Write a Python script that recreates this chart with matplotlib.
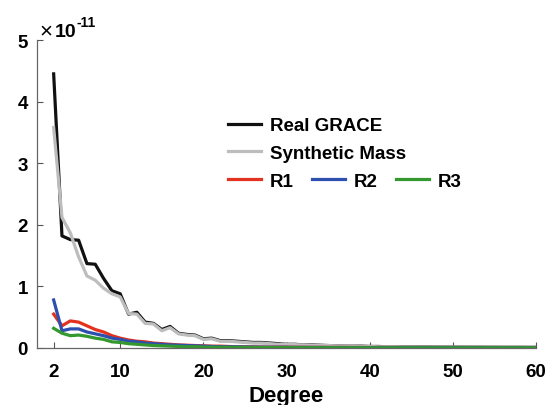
# plot.py
# Degree spectrum of real GRACE vs synthetic mass and the three residuals R1-R3.

import numpy as np
import matplotlib
matplotlib.use("Agg")
import matplotlib.pyplot as plt

# spherical harmonic degree 2..60
degree = np.arange(2, 61)

# values in units of 1e-11
real_grace = [4.45, 1.82, 1.76, 1.75, 1.37, 1.36, 1.13, 0.93, 0.88, 0.55,
              0.58, 0.42, 0.40, 0.30, 0.35, 0.24, 0.22, 0.21, 0.15, 0.16,
              0.12, 0.12, 0.11, 0.10, 0.09, 0.09, 0.08, 0.07, 0.06, 0.06,
              0.05, 0.05, 0.045, 0.04, 0.035, 0.03, 0.03, 0.03, 0.025, 0.025,
              0.02, 0.02, 0.02, 0.02, 0.018, 0.018, 0.016, 0.016, 0.015, 0.015,
              0.014, 0.014, 0.013, 0.013, 0.012, 0.012, 0.012, 0.011, 0.011]
synthetic = [3.58, 2.12, 1.87, 1.48, 1.17, 1.10, 0.97, 0.88, 0.83, 0.56,
             0.55, 0.40, 0.39, 0.28, 0.33, 0.23, 0.21, 0.20, 0.14, 0.15,
             0.11, 0.11, 0.10, 0.09, 0.08, 0.08, 0.07, 0.06, 0.06, 0.055,
             0.05, 0.045, 0.04, 0.04, 0.035, 0.03, 0.03, 0.025, 0.025, 0.02,
             0.02, 0.02, 0.018, 0.018, 0.016, 0.016, 0.015, 0.015, 0.014, 0.014,
             0.013, 0.013, 0.012, 0.012, 0.011, 0.011, 0.011, 0.010, 0.010]
r1 = [0.55, 0.36, 0.44, 0.42, 0.36, 0.30, 0.26, 0.20, 0.16, 0.13,
      0.11, 0.10, 0.08, 0.07, 0.06, 0.05, 0.045, 0.04, 0.035, 0.03,
      0.03, 0.025, 0.02, 0.02, 0.018, 0.016, 0.015, 0.014, 0.013, 0.012,
      0.012, 0.011, 0.011, 0.010, 0.010, 0.010, 0.009, 0.009, 0.009, 0.008,
      0.008, 0.008, 0.008, 0.007, 0.007, 0.007, 0.007, 0.007, 0.006, 0.006,
      0.006, 0.006, 0.006, 0.006, 0.005, 0.005, 0.005, 0.005, 0.005]
r2 = [0.78, 0.28, 0.31, 0.31, 0.26, 0.23, 0.20, 0.16, 0.14, 0.11,
      0.10, 0.08, 0.07, 0.06, 0.05, 0.045, 0.04, 0.035, 0.03, 0.025,
      0.02, 0.02, 0.018, 0.016, 0.015, 0.014, 0.013, 0.012, 0.011, 0.010,
      0.010, 0.009, 0.009, 0.008, 0.008, 0.008, 0.007, 0.007, 0.007, 0.007,
      0.006, 0.006, 0.006, 0.006, 0.006, 0.005, 0.005, 0.005, 0.005, 0.005,
      0.005, 0.004, 0.004, 0.004, 0.004, 0.004, 0.004, 0.004, 0.004]
r3 = [0.32, 0.24, 0.20, 0.21, 0.19, 0.16, 0.14, 0.10, 0.09, 0.07,
      0.06, 0.05, 0.04, 0.035, 0.03, 0.025, 0.02, 0.02, 0.015, 0.013,
      0.012, 0.011, 0.010, 0.009, 0.008, 0.008, 0.007, 0.007, 0.006, 0.006,
      0.006, 0.005, 0.005, 0.005, 0.005, 0.004, 0.004, 0.004, 0.004, 0.004,
      0.004, 0.003, 0.003, 0.003, 0.003, 0.003, 0.003, 0.003, 0.003, 0.003,
      0.003, 0.003, 0.003, 0.003, 0.003, 0.003, 0.003, 0.003, 0.003]

x_ticks = [2, 10, 20, 30, 40, 50, 60]
y_ticks = [0, 1, 2, 3, 4, 5]

plt.rcParams["font.family"] = ["Liberation Sans", "DejaVu Sans"]
plt.rcParams["font.weight"] = "bold"

fig = plt.figure(figsize=(5.55, 4.06), dpi=100)
ax = fig.add_axes([0.0667, 0.1404, 0.8993, 0.7586])

scale = 1e-11
lw = 2.3
ax.plot(degree, np.array(real_grace) * scale, color="#111111", lw=lw, label="Real GRACE")
ax.plot(degree, np.array(synthetic) * scale, color="#bdbdbd", lw=lw, label="Synthetic Mass")
ax.plot(degree, np.array(r1) * scale, color="#e3321f", lw=lw, label="R1")
ax.plot(degree, np.array(r2) * scale, color="#2d4fae", lw=lw, label="R2")
ax.plot(degree, np.array(r3) * scale, color="#33982e", lw=lw, label="R3")

ax.set_xlim(0, 60)
ax.set_ylim(0, 5 * scale)
ax.set_xticks(x_ticks)
ax.set_xticklabels([str(t) for t in x_ticks])
ax.set_yticks([t * scale for t in y_ticks])
ax.set_yticklabels([str(t) for t in y_ticks])
ax.tick_params(direction="in", length=4, width=0.8, color="#555555",
               labelsize=13.5)
ax.tick_params(axis="x", pad=10.5)
ax.tick_params(axis="y", pad=6.5)
for lab in ax.get_xticklabels() + ax.get_yticklabels():
    lab.set_fontweight("bold")

for side in ["top", "right"]:
    ax.spines[side].set_visible(False)
for side in ["left", "bottom"]:
    ax.spines[side].set_color("#666666")
    ax.spines[side].set_linewidth(0.9)

ax.set_xlabel("Degree", fontsize=16, fontweight="bold", labelpad=4)

# exponent label in the MATLAB style
ax.annotate("\u00d7", xy=(0.004, 1.0), xycoords="axes fraction",
            xytext=(0, 4), textcoords="offset pixels", fontsize=16,
            fontweight="normal", ha="left", va="baseline")
ax.annotate("10", xy=(0.036, 1.0), xycoords="axes fraction",
            xytext=(0, 4), textcoords="offset pixels", fontsize=14,
            fontweight="bold", ha="left", va="baseline")
ax.annotate("-11", xy=(0.080, 1.0), xycoords="axes fraction",
            xytext=(0, 14), textcoords="offset pixels", fontsize=10,
            fontweight="bold", ha="left", va="baseline")

# legend: two rows for the full fields, one row for the residuals
lines = ax.get_lines()
leg1 = ax.legend(lines[:2], ["Real GRACE", "Synthetic Mass"], loc="center left",
                 bbox_to_anchor=(0.383, 0.677), frameon=False, fontsize=13.5,
                 handlelength=1.76, handletextpad=0.48, labelspacing=0.55,
                 borderpad=0, borderaxespad=0)
ax.add_artist(leg1)
ax.legend(lines[2:], ["R1", "R2", "R3"], loc="center left", ncol=3,
          bbox_to_anchor=(0.383, 0.542), frameon=False, fontsize=13.5,
          handlelength=1.76, handletextpad=0.48, columnspacing=0.95,
          borderpad=0, borderaxespad=0)

plt.savefig("out.png", dpi=100)
